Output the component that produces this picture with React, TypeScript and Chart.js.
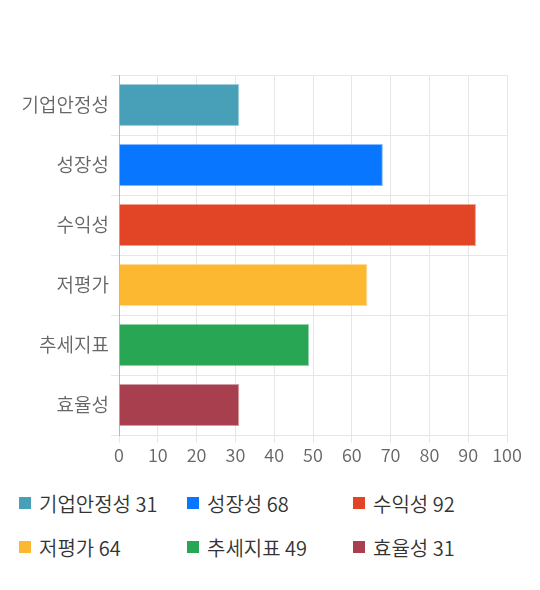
import React, { useEffect, useRef } from "react";
import { Chart, registerables } from "chart.js";

Chart.register(...registerables);

const categories = ["기업안정성", "성장성", "수익성", "저평가", "추세지표", "효율성"];
const values = [31, 68, 92, 64, 49, 31];
const colors = ["#48a0b8", "#0876ff", "#e24525", "#fdb831", "#28a653", "#a83f4e"];
const borderColors = [
  "rgba(72,160,184,0.5)",
  "rgba(8,118,255,0.5)",
  "rgba(226,69,37,0.5)",
  "rgba(253,184,49,0.5)",
  "rgba(40,166,83,0.5)",
  "rgba(168,63,78,0.5)",
];
const xTicks = { min: 0, max: 100, step: 10 };

const FONT = "'Noto Sans CJK KR', 'Noto Sans', sans-serif";

export default function App() {
  const ref = useRef<HTMLCanvasElement | null>(null);

  useEffect(() => {
    if (!ref.current) return;
    const chart = new Chart(ref.current, {
      type: "bar",
      data: {
        labels: categories,
        datasets: [
          {
            data: values,
            backgroundColor: colors,
            borderColor: borderColors,
            borderWidth: 1,
            categoryPercentage: 0.7,
            barPercentage: 1,
          },
        ],
      },
      options: {
        indexAxis: "y",
        animation: false,
        responsive: true,
        maintainAspectRatio: false,
        layout: { padding: { top: 75, right: 33, left: 0, bottom: 0 } },
        plugins: { legend: { display: false }, tooltip: { enabled: false } },
        scales: {
          x: {
            min: xTicks.min,
            max: xTicks.max,
            ticks: {
              stepSize: xTicks.step,
              color: "#666",
              font: { family: FONT, size: 18, weight: "350" },
              padding: 1,
            },
            grid: { color: "#e6e6e6", tickLength: 8 },
            border: { color: "#e6e6e6" },
            afterFit: (s: any) => {
              s.height = 35;
            },
          },
          y: {
            ticks: {
              color: "#666",
              font: { family: FONT, size: 19, weight: "350" },
              padding: 2,
            },
            grid: { color: "#e6e6e6", tickLength: 8, offset: true },
            border: { color: "#b8b8b8" },
            afterFit: (s: any) => {
              s.width = 119;
            },
          },
        },
      },
    });
    return () => chart.destroy();
  }, []);

  const colX = [19, 187, 353];
  const rowY = [503, 547];

  return (
    <div style={{ position: "absolute", left: 0, top: 0, width: 540, height: 590, background: "#fff" }}>
      <div style={{ position: "absolute", left: 0, top: 0, width: 540, height: 470 }}>
        <canvas ref={ref} />
      </div>
      {categories.map((c, i) => {
        const x = colX[i % 3];
        const y = rowY[Math.floor(i / 3)];
        return (
          <div
            key={c}
            style={{
              position: "absolute",
              left: x,
              top: y - 14,
              height: 28,
              display: "flex",
              alignItems: "center",
              whiteSpace: "nowrap",
              fontFamily: FONT,
              fontSize: 20,
              fontWeight: 350,
              color: "#333",
            }}
          >
            <span style={{ display: "inline-block", width: 12, height: 12, background: colors[i], marginRight: 8 }} />
            <span>{`${c} ${values[i]}`}</span>
          </div>
        );
      })}
    </div>
  );
}
